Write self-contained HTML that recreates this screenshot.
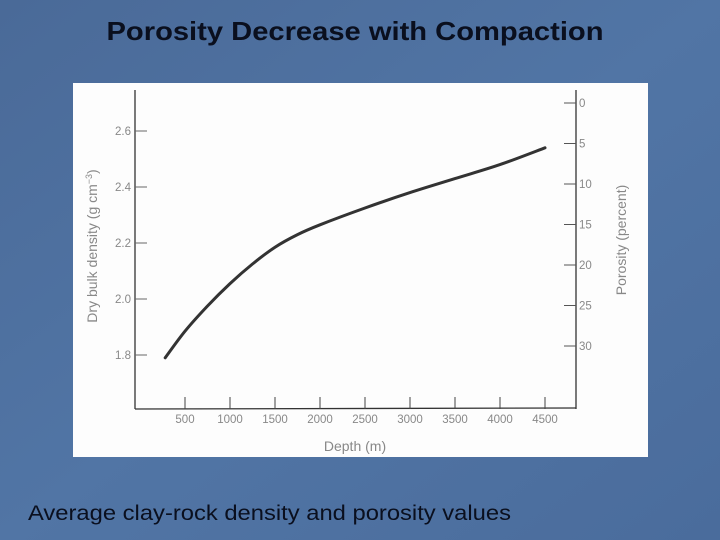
<!DOCTYPE html>
<html><head><meta charset="utf-8"><style>
html,body{margin:0;padding:0;width:720px;height:540px;overflow:hidden;background:#4b6d9c;}
svg{display:block}
</style></head><body>
<svg width="720" height="540" viewBox="0 0 720 540">
<defs>
<linearGradient id="bg" x1="0" y1="0" x2="1" y2="1">
<stop offset="0" stop-color="#4a6a98"/><stop offset="0.5" stop-color="#5175a5"/><stop offset="1" stop-color="#4a6c9c"/>
</linearGradient>
</defs>
<rect width="720" height="540" fill="url(#bg)"/>
<text x="355" y="40" text-anchor="middle" font-family="Liberation Sans, sans-serif" font-weight="bold" font-size="26" fill="#0a0f1e" textLength="497" lengthAdjust="spacingAndGlyphs">Porosity Decrease with Compaction</text>
<rect x="73" y="83" width="575" height="374" fill="#fdfdfd"/>
<g id="chart" font-family="Liberation Sans, sans-serif" fill="#888"></g>
<text x="28" y="520" font-family="Liberation Sans, sans-serif" font-size="21" fill="#0a0f1e" textLength="483" lengthAdjust="spacingAndGlyphs">Average clay-rock density and porosity values</text>
</svg>
<script>
const depthTicks=[500,1000,1500,2000,2500,3000,3500,4000,4500];
const densityTicks=[1.8,2.0,2.2,2.4,2.6];
const porosityTicks=[0,5,10,15,20,25,30];
const curveDepth=[280,500,750,1000,1250,1500,1750,2000,2500,3000,3500,4000,4500];
const curveDensity=[1.79,1.885,1.975,2.055,2.125,2.185,2.23,2.265,2.325,2.38,2.43,2.48,2.54];

const NS='http://www.w3.org/2000/svg';
const g=document.getElementById('chart');
const xS=d=>140+d*0.09;
const yD=v=>355-(v-1.8)*280;
const yP=p=>103+p*8.1;
function mk(t,a){const e=document.createElementNS(NS,t);for(const k in a)e.setAttribute(k,a[k]);g.appendChild(e);return e;}
const L=135,R=576,B=409,T=90;
let e;
e=mk('line',{x1:L,y1:T,x2:L,y2:B,stroke:'#333','stroke-width':1.3});


e=mk('line',{x1:L,y1:B,x2:R,y2:B-1,stroke:'#333','stroke-width':1.3});


e=mk('line',{x1:R,y1:90,x2:R,y2:B,stroke:'#333','stroke-width':1.3});


depthTicks.forEach(d=>{
 const x=xS(d);
 e=mk('line',{x1:x,y1:B,x2:x,y2:B-12,stroke:'#444','stroke-width':1});
 
 
 e=mk('text',{x:x,y:B+14,'text-anchor':'middle','font-size':11.5});
 e.textContent=d;
 
 
});
densityTicks.forEach(v=>{
 const y=yD(v);
 e=mk('line',{x1:L,y1:y,x2:L+12,y2:y,stroke:'#666','stroke-width':1});
 
 
 e=mk('text',{x:L-4,y:y+4,'text-anchor':'end','font-size':11.5});
 e.textContent=v.toFixed(1);
 
 
});
porosityTicks.forEach(p=>{
 const y=yP(p);
 e=mk('line',{x1:R-12,y1:y,x2:R,y2:y,stroke:'#555','stroke-width':1});
 
 
 e=mk('text',{x:R+3,y:y+4,'font-size':11.5});
 e.textContent=p;
 
 
});
e=mk('text',{x:355,y:451,'text-anchor':'middle','font-size':14});
e.textContent='Depth (m)';


e=mk('text',{x:0,y:0,'text-anchor':'middle','font-size':14,transform:'translate(97,246) rotate(-90)'});
e.innerHTML='Dry bulk density (g cm<tspan dy="-5" font-size="9">−3</tspan><tspan dy="5">)</tspan>';


e=mk('text',{x:0,y:0,'text-anchor':'middle','font-size':14,transform:'translate(626,240) rotate(-90)'});
e.textContent='Porosity (percent)';


const pts=curveDepth.map((d,i)=>[xS(d),yD(curveDensity[i])]);
let dstr='M'+pts[0][0]+','+pts[0][1];
for(let i=0;i<pts.length-1;i++){
 const p0=pts[Math.max(0,i-1)],p1=pts[i],p2=pts[i+1],p3=pts[Math.min(pts.length-1,i+2)];
 const c1=[p1[0]+(p2[0]-p0[0])/6,p1[1]+(p2[1]-p0[1])/6];
 const c2=[p2[0]-(p3[0]-p1[0])/6,p2[1]-(p3[1]-p1[1])/6];
 dstr+=` C${c1[0]},${c1[1]} ${c2[0]},${c2[1]} ${p2[0]},${p2[1]}`;
}
e=mk('path',{d:dstr,fill:'none',stroke:'#333','stroke-width':3,'stroke-linecap':'round'});


</script>
</body></html>
